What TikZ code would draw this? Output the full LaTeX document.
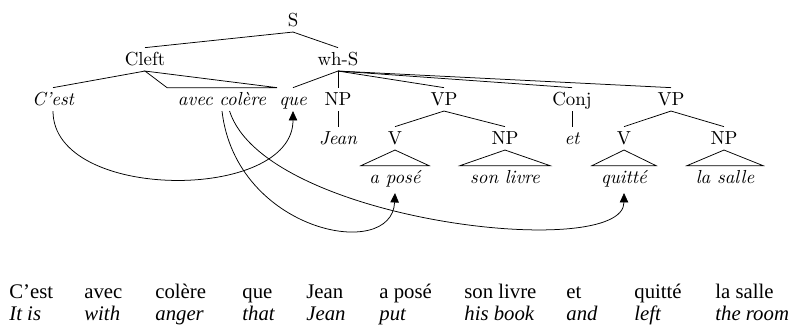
\documentclass[tikz,border=0pt]{standalone}
\usepackage{fontspec}
\newfontfamily\glossfont{Liberation Serif}
\usetikzlibrary{calc,arrows.meta}

\begin{document}
\begin{tikzpicture}[x=0.53pt,y=-0.53pt,
	tnode/.style={anchor=base,inner sep=2pt,text height=7pt,text depth=1pt},
	leaf/.style={tnode,font=\itshape},
	gloss/.style={anchor=base west,inner sep=0pt,font=\glossfont\fontsize{11}{13}\selectfont},
	arc/.style={-{Triangle[length=5pt,width=4.5pt]}}]
	\useasboundingbox (0,0) rectangle (791,324);
	% the tree
	\node[tnode](S) at (293,26) {S};
	\node[tnode](cleft) at (145,65) {Cleft};
	\node[tnode](whS) at (338,65) {wh-S};
	\node[leaf](cest) at (53,105) {C’est};
	\node[leaf](avec) at (222,105) {avec colère};
	\node[leaf](que) at (293,105) {que};
	\node[tnode](npA) at (338,105) {NP};
	\node[tnode](vpA) at (444,105) {VP};
	\node[tnode](conj) at (572,105) {Conj};
	\node[tnode](vpB) at (671,105) {VP};
	\node[leaf](jean) at (338,144) {Jean};
	\node[tnode](vA) at (395,144) {V};
	\node[tnode](npB) at (505,144) {NP};
	\node[leaf](et) at (572,144) {et};
	\node[tnode](vB) at (624,144) {V};
	\node[tnode](npC) at (724,144) {NP};
	\node[leaf](pose) at (395,183) {a posé};
	\node[leaf](livre) at (505,183) {son livre};
	\node[leaf](quitte) at (624,183) {quitté};
	\node[leaf](salle) at (725,183) {la salle};
	\foreach \a/\b in {S/cleft,S/whS,cleft/cest,whS/que,whS/npA,whS/vpA,whS/conj,whS/vpB,
		npA/jean,vpA/vA,vpA/npB,conj/et,vpB/vB,vpB/npC}
		\draw (\a.south) -- (\b.north);
	% roofs
	\foreach \a/\b/\w in {cleft/avec/55,vA/pose/34,npB/livre/45,vB/quitte/32,npC/salle/38}
		\draw (\a.south) -- ($(\b.north)+(-\w,0)$) -- ($(\b.north)+(\w,0)$) -- cycle;
	% movement arrows
	\draw[arc] (cest.south) .. controls (53,202) and (293,202) .. (que.south);
	\draw[arc] (avec.south) .. controls (236,232) and (392,262) .. ($(pose.south)+(0,4)$);
	\draw[arc] ([xshift=4]avec.south) .. controls (265,222) and (624,262) .. ($(quitte.south)+(0,4)$);
	% gloss
	\foreach \x/\fr/\en [count=\i] in {9/C’est/It is,84/avec/with,155/colère/anger,242/que/that,
		306/Jean/Jean,379/a posé/put,464/son livre/his book,566/et/and,634/quitté/left,715/la salle/the room}
	{
		\node[gloss](fr\i) at (\x,298) {\fr};
		\node[gloss](en\i) at (\x,320) {\itshape\en};
	}
\end{tikzpicture}
\end{document}
